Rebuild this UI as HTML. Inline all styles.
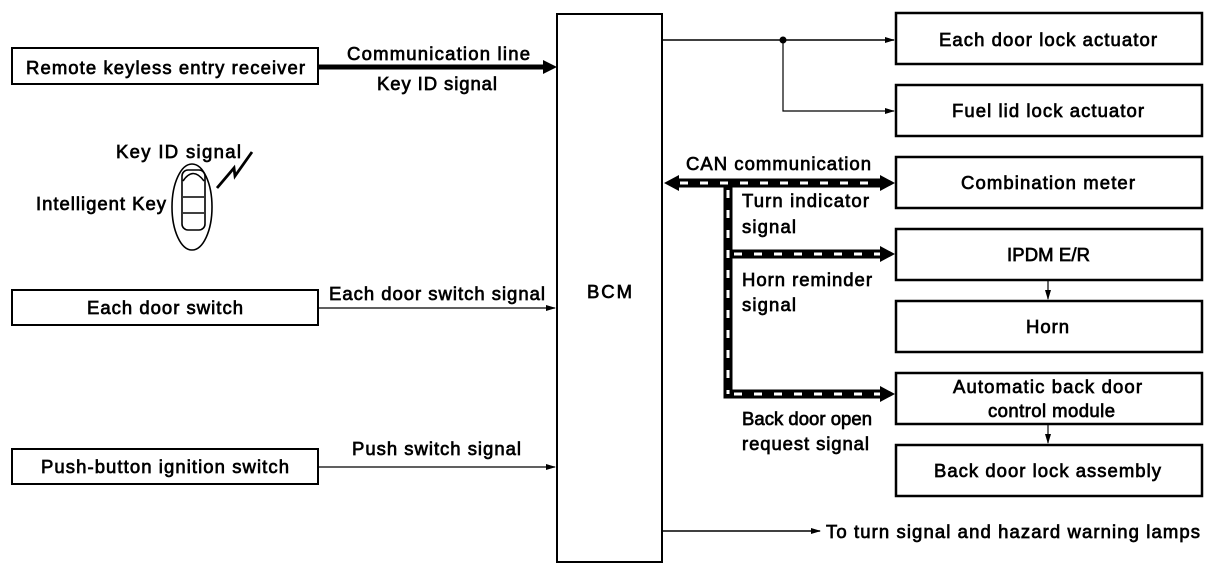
<!DOCTYPE html>
<html><head><meta charset="utf-8"><style>
html,body{margin:0;padding:0;background:#fff;}
svg{display:block;}
text{font-family:"Liberation Sans",sans-serif;font-size:18.5px;fill:#000;stroke:#000;stroke-width:0.7;}
</style></head><body>
<svg width="1216" height="582" viewBox="0 0 1216 582" xmlns="http://www.w3.org/2000/svg">
<defs>
<marker id="ah" markerWidth="10" markerHeight="8" refX="9" refY="4" orient="auto" markerUnits="userSpaceOnUse"><path d="M0,1 L10,4 L0,7 z" fill="#000"/></marker>
</defs>
<g fill="none" stroke="#000">
<rect x="12" y="48" width="306" height="36" stroke-width="2"/>
<rect x="12" y="290" width="306" height="35" stroke-width="2"/>
<rect x="12" y="449" width="306" height="35" stroke-width="2"/>
<rect x="557" y="14" width="105" height="548" stroke-width="2"/>
<rect x="896" y="13" width="306" height="51" stroke-width="2.5"/>
<rect x="896" y="85" width="306" height="51" stroke-width="2.5"/>
<rect x="896" y="157" width="306" height="51" stroke-width="2.5"/>
<rect x="896" y="229" width="306" height="51" stroke-width="2.5"/>
<rect x="896" y="301" width="306" height="51" stroke-width="2.5"/>
<rect x="896" y="373" width="306" height="51" stroke-width="2.5"/>
<rect x="896" y="445" width="306" height="51" stroke-width="2.5"/>
<line x1="662" y1="40" x2="894" y2="40" stroke-width="1.5" marker-end="url(#ah)"/>
<polyline points="783,40 783,111 894,111" stroke-width="1.2" marker-end="url(#ah)"/>
<line x1="318" y1="308" x2="555" y2="308" stroke-width="1.2" marker-end="url(#ah)"/>
<line x1="318" y1="467" x2="555" y2="467" stroke-width="1.2" marker-end="url(#ah)"/>
<line x1="662" y1="531" x2="820" y2="531" stroke-width="1.5" marker-end="url(#ah)"/>
<line x1="1048" y1="280" x2="1048" y2="299" stroke-width="1.2" marker-end="url(#ah)"/>
<line x1="1048" y1="424" x2="1048" y2="443" stroke-width="1.2" marker-end="url(#ah)"/>
<line x1="318" y1="67" x2="545" y2="67" stroke-width="5"/>
</g>
<circle cx="783" cy="40" r="3.5" fill="#000"/>
<path d="M543,60 L557,67 L543,74 z" fill="#000"/>
<g fill="none">
<line x1="674" y1="183" x2="884" y2="183" stroke="#000" stroke-width="9"/>
<polyline points="728,183 728,394 884,394" stroke="#000" stroke-width="9"/>
<line x1="728" y1="254" x2="884" y2="254" stroke="#000" stroke-width="9"/>
<line x1="680" y1="183" x2="880" y2="183" stroke="#fff" stroke-width="3" stroke-dasharray="8 12"/>
<line x1="728" y1="190" x2="728" y2="394" stroke="#fff" stroke-width="3" stroke-dasharray="8 12"/>
<line x1="734" y1="254" x2="880" y2="254" stroke="#fff" stroke-width="3" stroke-dasharray="8 12"/>
<line x1="734" y1="394" x2="880" y2="394" stroke="#fff" stroke-width="3" stroke-dasharray="8 12"/>
</g>
<path d="M664,183 L679,175 L679,191 z" fill="#000"/>
<path d="M895,183 L880,175 L880,191 z" fill="#000"/>
<path d="M895,254 L880,246 L880,262 z" fill="#000"/>
<path d="M895,394 L880,386 L880,402 z" fill="#000"/>
<g fill="none" stroke="#000" stroke-width="1.6">
<ellipse cx="192" cy="207" rx="20" ry="43"/>
<rect x="182" y="170" width="23" height="60" rx="6"/>
<path d="M183,181 Q193,166 204,181"/>
<line x1="183" y1="197" x2="204" y2="197"/>
<line x1="183" y1="213" x2="204" y2="213"/>
<polyline points="217,188 234,168 235,176 252,152" stroke-width="2.8"/>
</g>
<text x="26" y="74" textLength="279">Remote keyless entry receiver</text>
<text x="347" y="60" textLength="183">Communication line</text>
<text x="377" y="90" textLength="120">Key ID signal</text>
<text x="116" y="158" textLength="125">Key ID signal</text>
<text x="36" y="210" textLength="130">Intelligent Key</text>
<text x="87" y="314" textLength="156">Each door switch</text>
<text x="329" y="300" textLength="216">Each door switch signal</text>
<text x="352" y="455" textLength="169">Push switch signal</text>
<text x="41" y="473" textLength="248">Push-button ignition switch</text>
<text x="587" y="298" textLength="45">BCM</text>
<text x="686" y="170" textLength="185">CAN communication</text>
<text x="742" y="207" textLength="127">Turn indicator</text>
<text x="742" y="233" textLength="54">signal</text>
<text x="742" y="286" textLength="130">Horn reminder</text>
<text x="742" y="311" textLength="54">signal</text>
<text x="742" y="425" textLength="130">Back door open</text>
<text x="742" y="450" textLength="127">request signal</text>
<text x="939" y="46" textLength="218">Each door lock actuator</text>
<text x="952" y="117" textLength="192">Fuel lid lock actuator</text>
<text x="961" y="189" textLength="174">Combination meter</text>
<text x="1007" y="261" textLength="83">IPDM E/R</text>
<text x="1026" y="333" textLength="43">Horn</text>
<text x="953" y="393" textLength="189">Automatic back door</text>
<text x="988" y="417" textLength="127">control module</text>
<text x="934" y="477" textLength="227">Back door lock assembly</text>
<text x="826" y="538" textLength="374">To turn signal and hazard warning lamps</text>
</svg>
</body></html>
